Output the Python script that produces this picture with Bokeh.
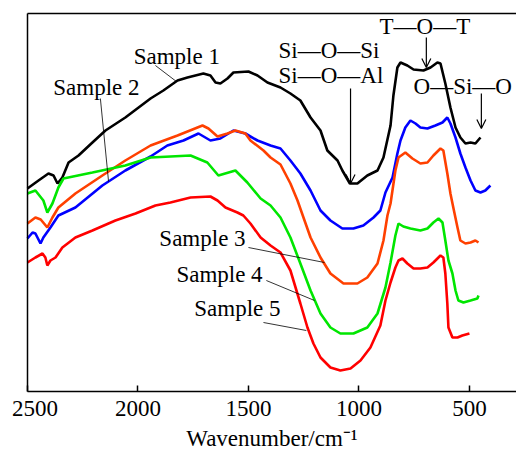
from bokeh.plotting import figure
from bokeh.models import Range1d, FixedTicker, Label, Arrow, OpenHead, LinearAxis
from bokeh.embed import file_html
from bokeh.resources import INLINE

# ---- data (wavenumber in cm^-1, transmittance in arbitrary units, offset per sample) ----
wn_s1 = [2500, 2450, 2405, 2382, 2364, 2342, 2314, 2269, 2206, 2147, 2057, 1943, 1885, 1821, 1776,
         1704, 1672, 1649, 1627, 1595, 1568, 1500, 1459, 1414, 1355, 1310, 1265, 1219, 1174, 1143,
         1097, 1075, 1041, 1007, 962, 916, 889, 857, 844, 826, 812, 781, 753, 708, 676, 645, 631,
         609, 586, 563, 541, 518, 495, 473, 450]
t_s1 = [212, 220, 227, 225, 217, 223, 238, 245, 258, 270, 283, 302, 310, 320, 323,
        327, 325, 318, 317, 322, 328, 329, 325, 318, 313, 307, 300, 283, 270, 250,
        240, 230, 217, 217, 225, 230, 243, 275, 305, 333, 338, 335, 331, 330, 333, 338, 337,
        317, 293, 273, 263, 257, 258, 257, 263]

wn_s2 = [2500, 2477, 2464, 2441, 2428, 2396, 2360, 2283, 2161, 2057, 1943, 1867, 1794, 1726, 1672,
         1627, 1568, 1514, 1459, 1400, 1355, 1310, 1265, 1219, 1174, 1129, 1075, 1025, 980, 934,
         903, 880, 848, 826, 812, 790, 767, 744, 722, 690, 654, 622, 600, 586, 563, 541, 518,
         495, 473, 450, 428, 405]
t_s2 = [162, 168, 167, 157, 163, 173, 185, 193, 215, 230, 244, 255, 260, 267, 260,
        262, 270, 267, 260, 255, 252, 240, 227, 210, 190, 180, 172, 172, 175, 183,
        190, 208, 223, 247, 260, 273, 280, 277, 273, 272, 275, 278, 283, 277, 263, 247, 233,
        220, 210, 208, 210, 215]

wn_s3 = [2500, 2464, 2440, 2410, 2387, 2360, 2283, 2161, 2057, 1943, 1821, 1708, 1681, 1640, 1595,
         1559, 1514, 1491, 1432, 1400, 1355, 1310, 1278, 1251, 1219, 1174, 1129, 1070, 1007, 962,
         916, 889, 871, 857, 835, 821, 790, 758, 722, 690, 663, 631, 618, 600, 586, 573, 554,
         541, 518, 495, 473, 459]
t_s3 = [177, 183, 181, 173, 183, 193, 207, 225, 240, 255, 265, 275, 272, 264, 267,
        270, 267, 260, 250, 243, 236, 217, 200, 183, 163, 143, 127, 117, 117, 123,
        137, 160, 185, 197, 230, 243, 248, 242, 237, 238, 245, 252, 250, 227, 207, 193, 173,
        160, 157, 158, 160, 158]

wn_s4 = [2500, 2464, 2428, 2410, 2387, 2360, 2337, 2206, 2057, 1943, 1762, 1686, 1636, 1559, 1505,
         1445, 1400, 1355, 1310, 1265, 1219, 1174, 1129, 1084, 1025, 962, 916, 880, 857, 835,
         821, 799, 767, 722, 690, 663, 640, 622, 609, 595, 577, 563, 550, 527, 495, 464, 459]
t_s4 = [207, 210, 200, 188, 197, 213, 222, 228, 235, 243, 245, 238, 225, 230, 218,
        202, 195, 183, 163, 137, 110, 87, 73, 67, 67, 73, 87, 113, 138, 165,
        177, 174, 172, 170, 172, 178, 182, 178, 160, 140, 127, 110, 100, 98, 100, 102, 105]

wn_s5 = [2500, 2464, 2432, 2419, 2410, 2396, 2373, 2342, 2283, 2206, 2102, 2011, 1921, 1853, 1762,
         1672, 1640, 1604, 1550, 1523, 1491, 1445, 1400, 1355, 1310, 1265, 1233, 1206, 1174, 1129,
         1084, 1038, 993, 948, 903, 880, 857, 835, 821, 803, 781, 753, 722, 690, 663, 631, 618,
         609, 600, 595, 577, 554, 532, 500]
t_s5 = [138, 143, 147, 143, 135, 140, 143, 153, 163, 170, 180, 187, 195, 198, 203,
        204, 200, 193, 188, 185, 177, 163, 155, 148, 130, 97, 73, 57, 43, 33,
        30, 32, 40, 53, 75, 100, 118, 133, 140, 142, 137, 132, 132, 133, 138, 145, 143,
        127, 97, 73, 63, 63, 65, 67]

series_names = ["Sample 1", "Sample 2", "Sample 3", "Sample 4", "Sample 5"]
series_colors = ["#000000", "#0000FF", "#FF4000", "#00E600", "#FF0000"]
tick_values = [2500, 2000, 1500, 1000, 500]
tick_labels = {2500: "\u20022500", 2000: "2000", 1500: "1500", 1000: "1000", 500: "500"}
x_title = "Wavenumber/cm\u207b\u00b9"

# plot box in data units (axes are pinned to these)
X_LEFT, X_RIGHT = 2500, 287
Y_BOTTOM, Y_TOP = 9, 387

FONT = "Liberation Serif"
FS = "23px"
TXT_DY = 7   # baseline correction for annotation texts (screen px)

# the frame covers the whole canvas; the axes are pinned inside it
p = figure(width=516, height=450, output_backend="svg", toolbar_location=None,
           x_range=Range1d(2622, X_RIGHT), y_range=Range1d(-50, 400),
           min_border_left=0, min_border_right=0, min_border_top=0, min_border_bottom=0)
p.outline_line_color = None
p.grid.grid_line_color = None
p.background_fill_color = "white"
p.border_fill_color = "white"

xs = [wn_s1, wn_s2, wn_s3, wn_s4, wn_s5]
ys = [t_s1, t_s2, t_s3, t_s4, t_s5]
for x, y, c in zip(xs, ys, series_colors):
    p.line(x, y, line_color=c, line_width=2.6)

# left frame line = y axis without ticks / labels
yax = p.left[0]
yax.fixed_location = X_LEFT
yax.bounds = (Y_BOTTOM, Y_TOP)
yax.ticker = FixedTicker(ticks=[])
yax.major_tick_line_color = None
yax.minor_tick_line_color = None
yax.axis_line_color = "black"
yax.axis_line_width = 1.5

# bottom axis (the figure's own x axis)
ax = p.below[0]
ax.fixed_location = Y_BOTTOM
ax.bounds = (X_RIGHT, X_LEFT)
ax.ticker = FixedTicker(ticks=tick_values)
ax.major_label_overrides = tick_labels
ax.major_tick_in = 6
ax.major_tick_out = 0
ax.minor_tick_line_color = None
ax.axis_line_width = 1.5
ax.axis_line_color = "black"
ax.major_tick_line_color = "black"
ax.major_tick_line_width = 1.5
ax.major_label_text_font = FONT
ax.major_label_text_font_size = FS
ax.major_label_text_color = "black"
ax.major_label_standoff = 4
ax.axis_label = x_title
ax.axis_label_text_font = FONT
ax.axis_label_text_font_size = FS
ax.axis_label_text_font_style = "normal"
ax.axis_label_text_color = "black"
ax.axis_label_standoff = 2

# top frame line = bare axis
top = LinearAxis(fixed_location=Y_TOP, bounds=(X_RIGHT, X_LEFT), ticker=FixedTicker(ticks=[]),
                 major_tick_line_color=None, minor_tick_line_color=None,
                 axis_line_color="black", axis_line_width=1.5)
p.add_layout(top, "above")

# sample labels with leader lines
lab_pos = [(1824, 337), (2188, 306), (1708, 155), (1631, 119), (1550, 85)]
leaders = [((1921, 335), (1826, 319)), ((2170, 302), (2133, 219)), ((1500, 153), (1156, 138)),
           ((1419, 120), (1201, 100)), ((1432, 78), (1238, 70))]
for name, (lx, ly), ((x0, y0), (x1, y1)) in zip(series_names, lab_pos, leaders):
    p.add_layout(Label(x=lx, y=ly, y_offset=TXT_DY, text=name, text_align="center",
                       text_baseline="alphabetic", text_font=FONT, text_font_size=FS,
                       text_color="black"))
    p.segment(x0=[x0], y0=[y0], x1=[x1], y1=[y1], line_color="black", line_width=0.8)

# band assignments
bands = [("Si\u2014O\u2014Si", 1364, 343), ("Si\u2014O\u2014Al", 1364, 318),
         ("T\u2014O\u2014T", 907, 367), ("O\u2014Si\u2014O", 753, 307)]
for txt, bx, by in bands:
    p.add_layout(Label(x=bx, y=by, y_offset=TXT_DY, text=txt, text_align="left",
                       text_baseline="alphabetic", text_font=FONT, text_font_size=FS,
                       text_color="black"))

arrows = [((1038, 312), (1038, 217)), ((695, 363), (695, 333)), ((446, 307), (446, 272))]
for (x0, y0), (x1, y1) in arrows:
    p.add_layout(Arrow(end=OpenHead(size=9, line_width=1.2, line_color="black"),
                       x_start=x0, y_start=y0, x_end=x1, y_end=y1,
                       line_color="black", line_width=1.2))

open("out.html", "w").write(file_html(p, INLINE))
